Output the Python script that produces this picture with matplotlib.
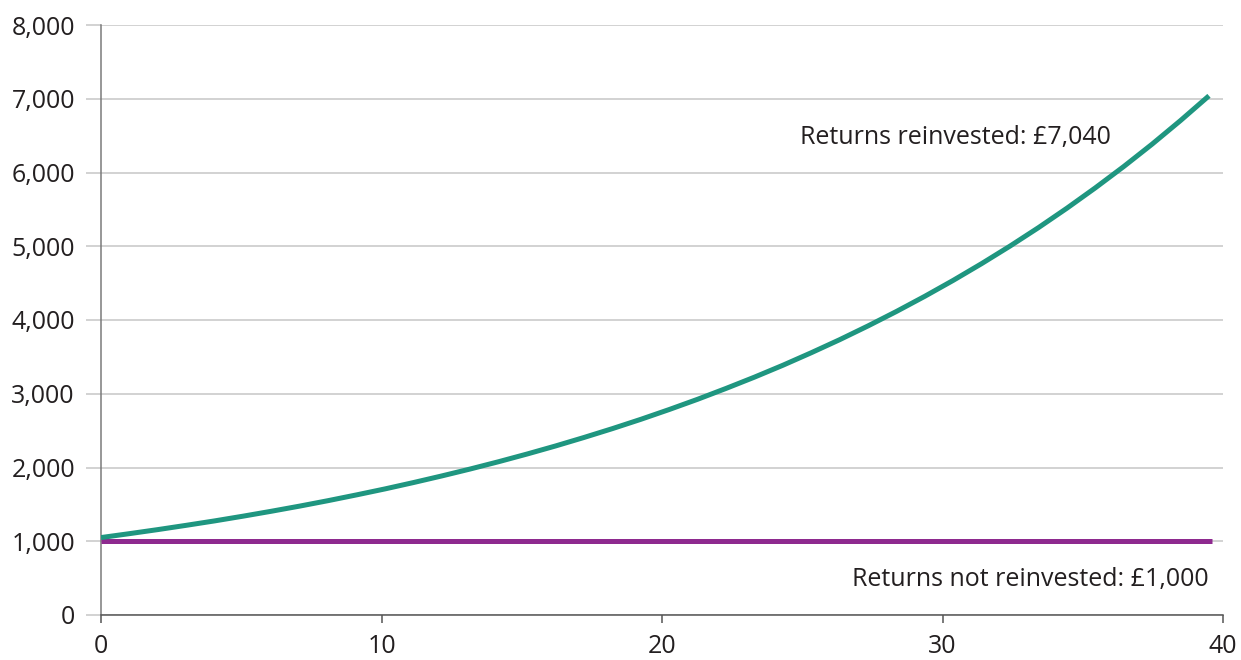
import numpy as np
from matplotlib import pyplot as plt

# value of £1,000 over time (annual points)
reinvested = [1050, 1103, 1158, 1216, 1276, 1340, 1407, 1477, 1551, 1629,
              1710, 1796, 1886, 1980, 2079, 2183, 2292, 2407, 2527, 2653,
              2786, 2925, 3072, 3225, 3386, 3556, 3733, 3920, 4116, 4322,
              4538, 4765, 5003, 5253, 5516, 5792, 6081, 6385, 6705, 7040]
not_reinvested = [1000, 1000]
curve_end = 39.5
flat_end = 39.6
x_ticks = [0, 10, 20, 30, 40]
y_ticks = [0, 1000, 2000, 3000, 4000, 5000, 6000, 7000, 8000]
label_reinvested = 'Returns reinvested: £7,040'
label_not = 'Returns not reinvested: £1,000'

green = '#1f9680'
purple = '#8e2a8f'

plt.rcParams['font.family'] = ['Open Sans', 'DejaVu Sans']

fig = plt.figure(figsize=(12.41, 6.6), dpi=100)
ax = fig.add_axes([101/1241, 1-615/660, (1223-101)/1241, (615-25)/660])

x1 = np.linspace(0, curve_end, len(reinvested))
x2 = np.linspace(0, flat_end, len(not_reinvested))
ax.plot(x2, not_reinvested, color=purple, lw=3.6, solid_capstyle='butt', zorder=3)
ax.plot(x1, reinvested, color=green, lw=3.6, solid_capstyle='butt', zorder=4)

ax.text(36, 6470, label_reinvested, ha='right', va='center', fontsize=18, color='#231f20')
ax.text(39.5, 475, label_not, ha='right', va='center', fontsize=18, color='#231f20')

ax.set_xlim(0, 40)
ax.set_ylim(0, 8000)
ax.set_xticks(x_ticks)
ax.set_yticks(y_ticks)
ax.set_yticklabels([f'{v:,}' for v in y_ticks])
ax.yaxis.grid(True, color='#c6c6c6', lw=1.1)
ax.set_axisbelow(True)

for s in ['top', 'right']:
    ax.spines[s].set_visible(False)
ax.spines['left'].set_color('#7a7a7a')
ax.spines['left'].set_linewidth(1.1)
ax.spines['bottom'].set_color('#555555')
ax.spines['bottom'].set_linewidth(1.1)

ax.tick_params(axis='y', length=10.8, width=1.1, color='#c6c6c6', pad=8,
               labelsize=18, labelcolor='#231f20')
ax.tick_params(axis='x', length=5.5, width=1.1, color='#555555', pad=8,
               labelsize=18, labelcolor='#231f20')
ax.yaxis.get_major_ticks()[0].tick1line.set_color('#555555')

fig.savefig('out.png', dpi=100)
